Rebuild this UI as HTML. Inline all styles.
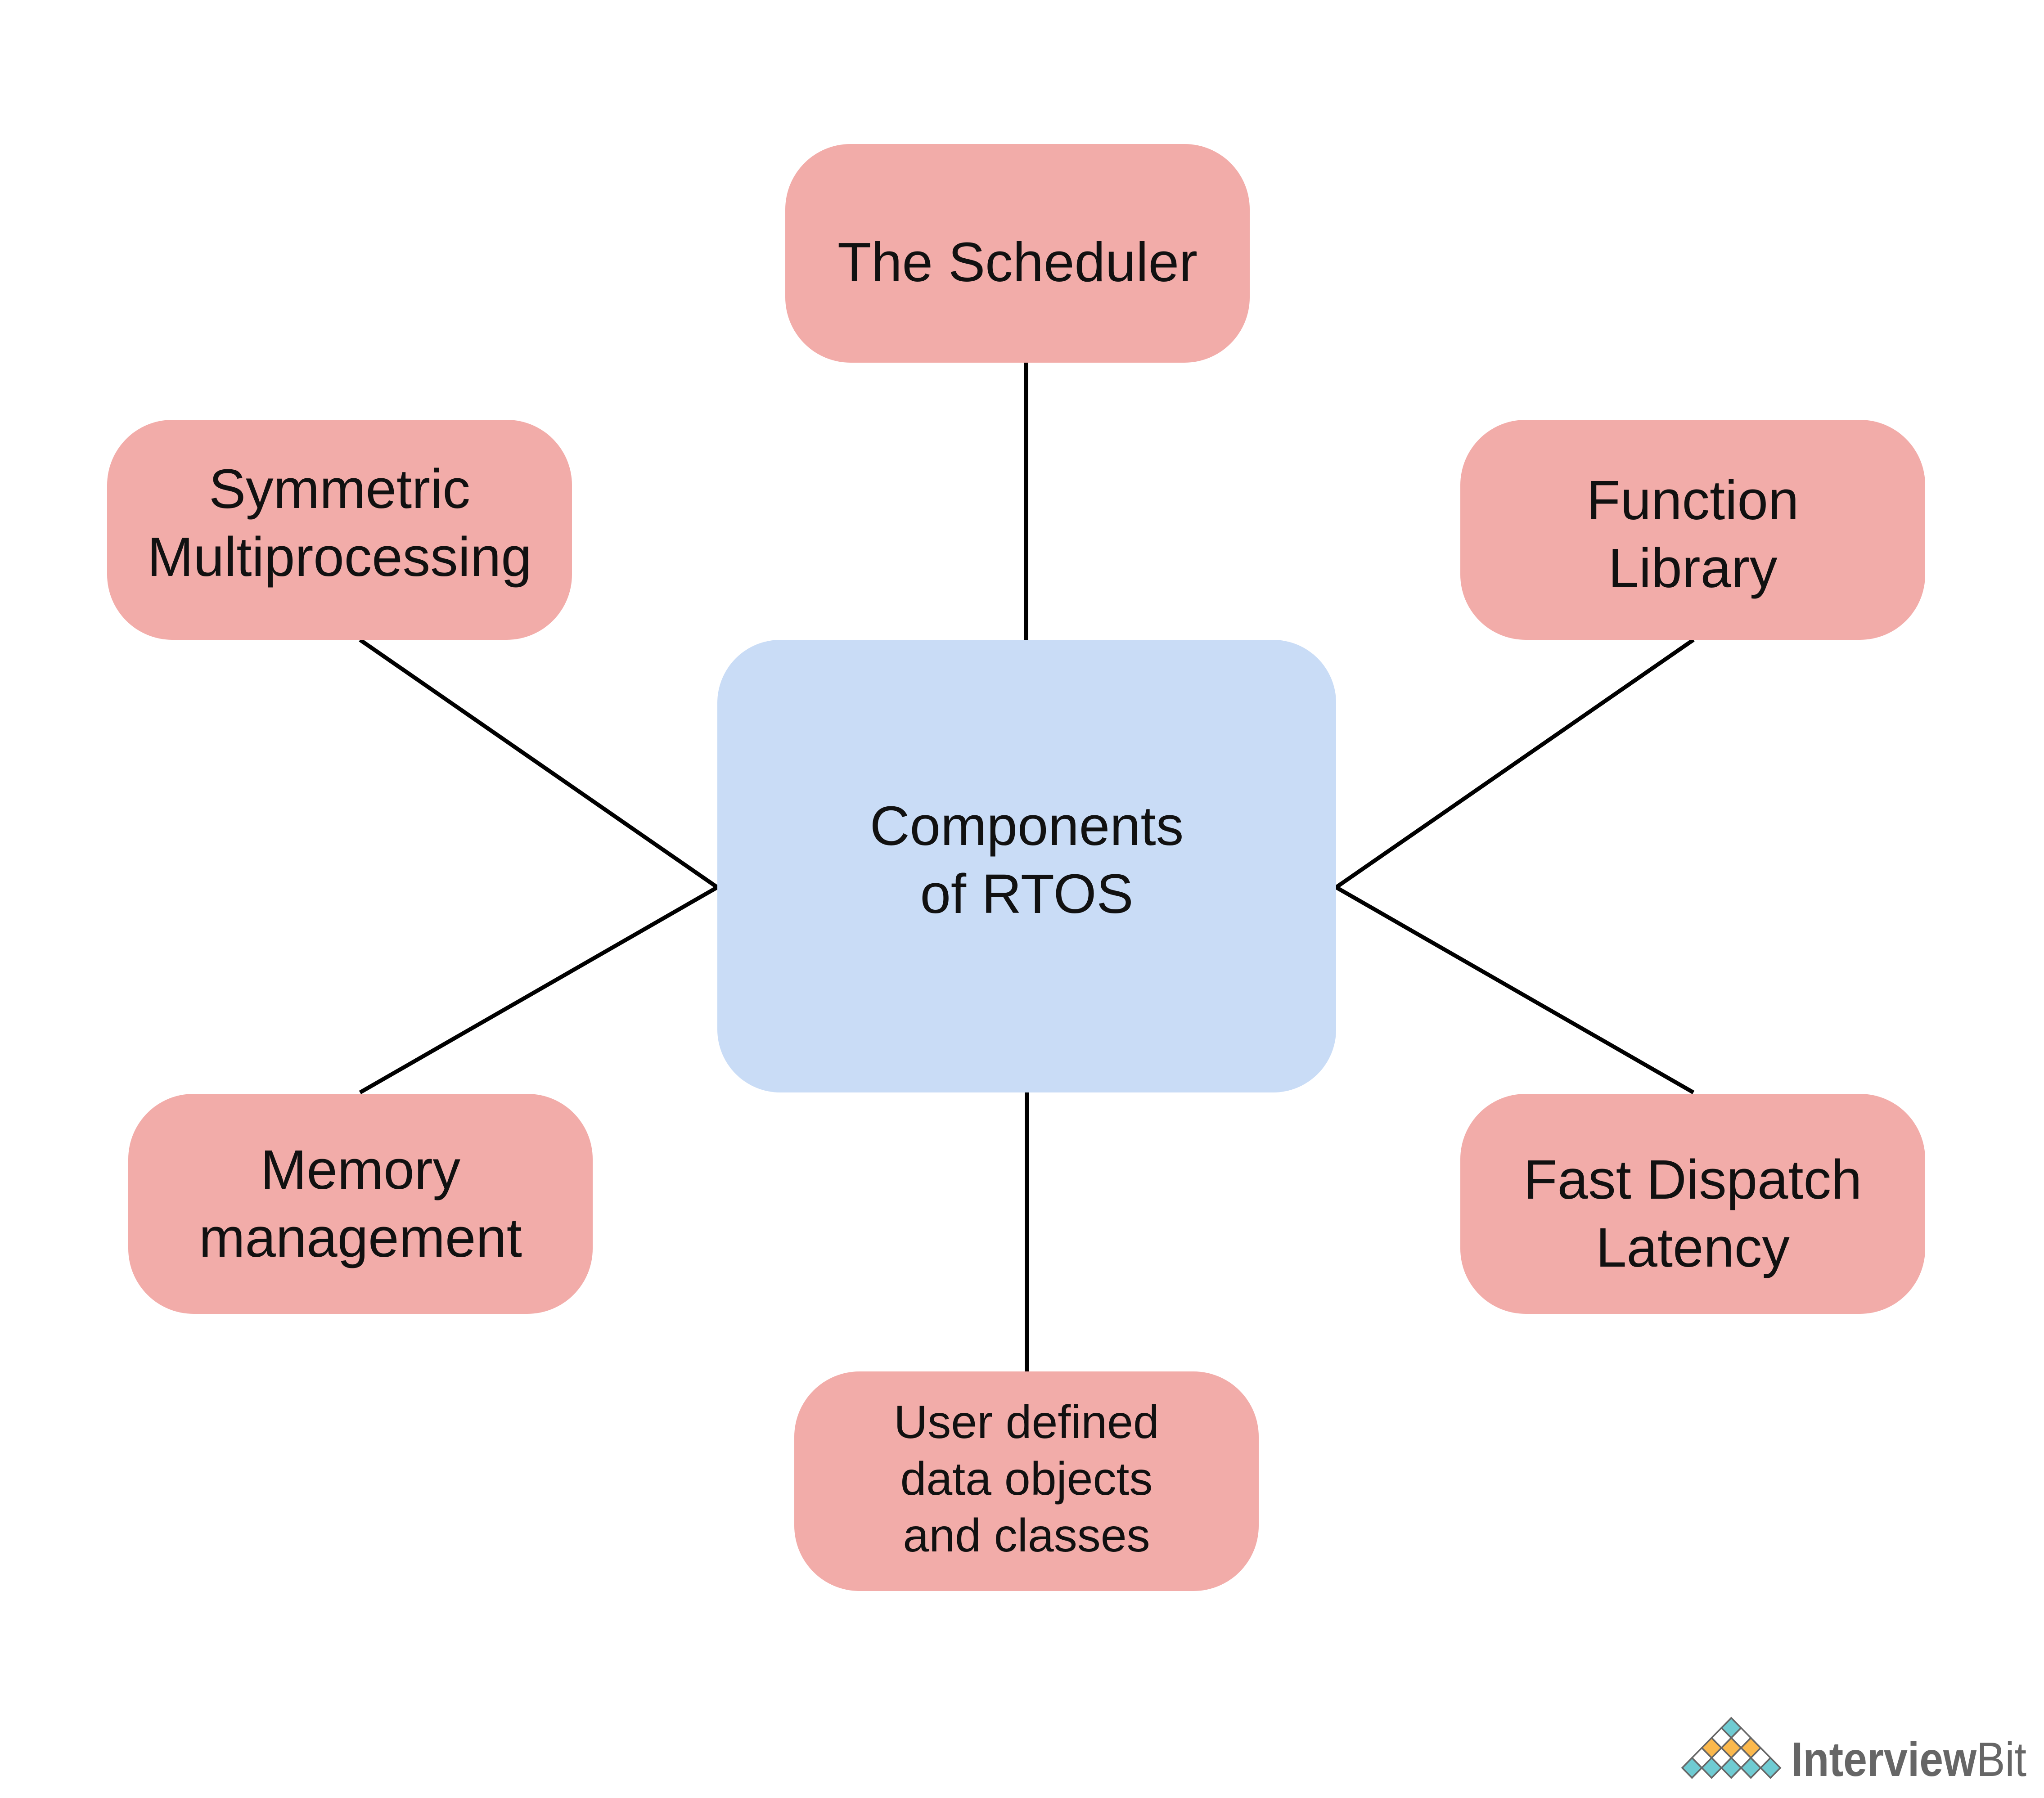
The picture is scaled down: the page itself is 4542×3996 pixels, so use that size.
<!DOCTYPE html>
<html><head><meta charset="utf-8"><style>
html,body{margin:0;padding:0;background:#fff;}
body{width:4542px;height:3996px;position:relative;overflow:hidden;font-family:"Liberation Sans",sans-serif;}
.b{position:absolute;background:#f2aca9;border-radius:145px;display:flex;align-items:center;justify-content:center;text-align:center;color:#111;font-size:123px;line-height:151px;box-sizing:border-box;}
</style></head><body>
<svg width="4542" height="3996" style="position:absolute;left:0;top:0">
<g stroke="#000" stroke-width="9" fill="none">
<line x1="2280" y1="806" x2="2280" y2="1422"/>
<line x1="2282" y1="2428" x2="2282" y2="3048"/>
<polyline points="800,1422 1594,1972 800,2428"/>
<polyline points="3763,1422 2969,1972 3763,2428"/>
</g>
<g stroke="#666" stroke-width="3.5">
<polygon points="0,-22.2 21.8,0 0,22.2 -21.8,0" transform="translate(3847,3840.2)" fill="#6fcbd2"/>
<polygon points="0,-22.2 21.8,0 0,22.2 -21.8,0" transform="translate(3825.2,3862.4)" fill="#fff"/>
<polygon points="0,-22.2 21.8,0 0,22.2 -21.8,0" transform="translate(3868.8,3862.4)" fill="#fff"/>
<polygon points="0,-22.2 21.8,0 0,22.2 -21.8,0" transform="translate(3803.4,3884.6)" fill="#fbb84c"/>
<polygon points="0,-22.2 21.8,0 0,22.2 -21.8,0" transform="translate(3847,3884.6)" fill="#fbb84c"/>
<polygon points="0,-22.2 21.8,0 0,22.2 -21.8,0" transform="translate(3890.6,3884.6)" fill="#fbb84c"/>
<polygon points="0,-22.2 21.8,0 0,22.2 -21.8,0" transform="translate(3781.6,3906.8)" fill="#fff"/>
<polygon points="0,-22.2 21.8,0 0,22.2 -21.8,0" transform="translate(3825.2,3906.8)" fill="#fff"/>
<polygon points="0,-22.2 21.8,0 0,22.2 -21.8,0" transform="translate(3868.8,3906.8)" fill="#fff"/>
<polygon points="0,-22.2 21.8,0 0,22.2 -21.8,0" transform="translate(3912.4,3906.8)" fill="#fff"/>
<polygon points="0,-22.2 21.8,0 0,22.2 -21.8,0" transform="translate(3759.8,3929)" fill="#6fcbd2"/>
<polygon points="0,-22.2 21.8,0 0,22.2 -21.8,0" transform="translate(3803.4,3929)" fill="#6fcbd2"/>
<polygon points="0,-22.2 21.8,0 0,22.2 -21.8,0" transform="translate(3847,3929)" fill="#6fcbd2"/>
<polygon points="0,-22.2 21.8,0 0,22.2 -21.8,0" transform="translate(3890.6,3929)" fill="#6fcbd2"/>
<polygon points="0,-22.2 21.8,0 0,22.2 -21.8,0" transform="translate(3934.2,3929)" fill="#6fcbd2"/>
</g>
<text x="3980" y="3947" font-family="Liberation Sans, sans-serif" font-size="108" fill="#666" textLength="523" lengthAdjust="spacingAndGlyphs"><tspan font-weight="bold">Interview</tspan><tspan>Bit</tspan></text>
</svg>
<div class="b" style="left:1745px;top:320px;width:1032px;height:486px;padding-top:40px;">The Scheduler</div>
<div class="b" style="left:238px;top:933px;width:1033px;height:489px;padding-bottom:30px;">Symmetric<br>Multiprocessing</div>
<div class="b" style="left:3245px;top:933px;width:1033px;height:489px;padding-top:20px;">Function<br>Library</div>
<div class="b" style="left:1594px;top:1422px;width:1375px;height:1006px;background:#c9dcf6;border-radius:140px;align-items:flex-start;padding-top:339px;">Components<br>of RTOS</div>
<div class="b" style="left:285px;top:2431px;width:1032px;height:489px;">Memory<br>management</div>
<div class="b" style="left:3245px;top:2431px;width:1033px;height:489px;padding-top:44px;">Fast Dispatch<br>Latency</div>
<div class="b" style="left:1765px;top:3048px;width:1032px;height:488px;font-size:104px;line-height:126px;padding-bottom:10px;">User defined<br>data objects<br>and classes</div>
</body></html>
